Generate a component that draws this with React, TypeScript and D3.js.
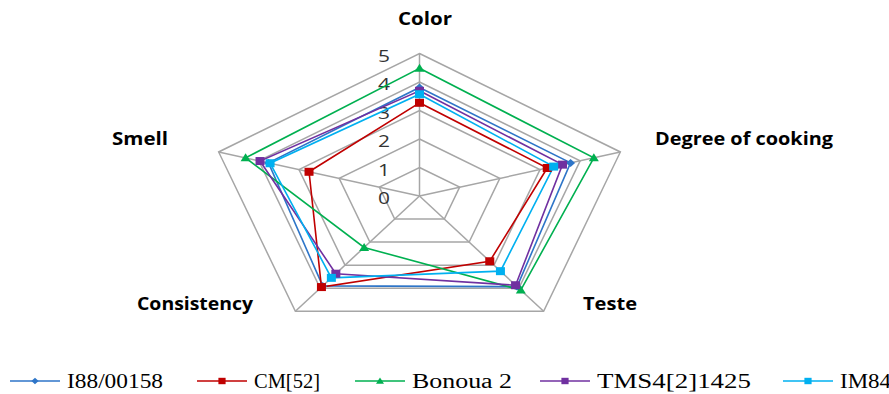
import React from "react";
import * as d3 from "d3";

// Sensory attributes (clockwise from top)
const axes = ["Color", "Degree of cooking", "Teste", "Consistency", "Smell"];
const levels = [0, 1, 2, 3, 4, 5];

// Mean scores for each variety, in axis order
const seriesNames = ["I88/00158", "CM[52]", "Bonoua 2", "TMS4[2]1425", "IM84"];
const i88 = [3.81, 3.76, 3.93, 3.9, 3.76];
const cm52 = [3.27, 3.18, 2.83, 3.95, 2.75];
const bonoua2 = [4.48, 4.34, 4.08, 2.23, 4.33];
const tms4 = [3.69, 3.56, 3.87, 3.37, 3.97];
const im84 = [3.57, 3.34, 3.26, 3.55, 3.72];

const seriesColors = ["#2E75C8", "#C00000", "#00B050", "#7030A0", "#00B0F0"];
const seriesShapes = ["diamond", "square", "triangle", "square", "square"];

const W = 889;
const H = 394;
const cx = 419.5;
const cy = 196;
const sx = 1.482; // horizontal stretch of the plot area

const r = d3.scaleLinear().domain([0, 5]).range([0, 142.5]);

function pt(i: number, v: number): [number, number] {
  const a = (i * 2 * Math.PI) / axes.length;
  return [cx + sx * r(v) * Math.sin(a), cy - r(v) * Math.cos(a)];
}

function Marker({ shape, x, y, color, s = 1 }: { shape: string; x: number; y: number; color: string; s?: number }) {
  if (shape === "square") {
    return <rect x={x - 4.5 * s} y={y - 4 * s} width={9 * s} height={8 * s} fill={color} />;
  }
  if (shape === "triangle") {
    const p = [
      [x, y - 4.5 * s],
      [x + 5 * s, y + 3.5 * s],
      [x - 5 * s, y + 3.5 * s],
    ];
    return <polygon points={p.map((d) => d.join(",")).join(" ")} fill={color} />;
  }
  const p = [
    [x, y - 4 * s],
    [x + 4.5 * s, y],
    [x, y + 4 * s],
    [x - 4.5 * s, y],
  ];
  return <polygon points={p.map((d) => d.join(",")).join(" ")} fill={color} />;
}

export default function App() {
  const data = [i88, cm52, bonoua2, tms4, im84];
  const closed = d3.line<[number, number]>().curve(d3.curveLinearClosed);

  const labelPos = [
    { x: 425, y: 25, len: 54 },
    { x: 744, y: 145, len: 178 },
    { x: 610, y: 310, len: 54 },
    { x: 195, y: 310, len: 116 },
    { x: 140, y: 145, len: 56 },
  ];

  const legendX = [10, 197, 355, 540, 783];
  const legendTextLen = [96, 66, 100, 154, 51];

  return (
    <div style={{ position: "absolute", left: 0, top: 0 }}>
      <svg width={W} height={H} style={{ display: "block", background: "#fff" }}>
        {/* grid pentagons */}
        {levels.slice(1).map((lv) => (
          <path
            key={lv}
            d={closed(axes.map((_, i) => pt(i, lv))) || ""}
            fill="none"
            stroke="#A6A6A6"
            strokeWidth={1.5}
          />
        ))}
        {/* spokes */}
        {axes.map((_, i) => {
          const [x2, y2] = pt(i, 5);
          return <line key={i} x1={cx} y1={cy} x2={x2} y2={y2} stroke="#A6A6A6" strokeWidth={1.5} />;
        })}
        {/* level tick labels */}
        {levels.map((lv) => (
          <text
            key={lv}
            x={378}
            y={cy - r(lv) + 8}
            fontFamily="Open Sans, Liberation Sans, sans-serif"
            fontSize={17}
            fill="#333"
            textLength={12}
            lengthAdjust="spacingAndGlyphs"
          >
            {lv}
          </text>
        ))}
        {/* series */}
        {data.map((vals, si) => (
          <path
            key={si}
            d={closed(vals.map((v, i) => pt(i, v))) || ""}
            fill="none"
            stroke={seriesColors[si]}
            strokeWidth={1.6}
          />
        ))}
        {data.map((vals, si) =>
          vals.map((v, i) => {
            const [x, y] = pt(i, v);
            return <Marker key={`${si}-${i}`} shape={seriesShapes[si]} x={x} y={y} color={seriesColors[si]} />;
          })
        )}
        {/* axis labels */}
        {axes.map((name, i) => (
          <text
            key={name}
            x={labelPos[i].x}
            y={labelPos[i].y}
            textAnchor="middle"
            fontFamily="Open Sans, Liberation Sans, sans-serif"
            fontWeight="bold"
            fontSize={17}
            fill="#000"
            textLength={labelPos[i].len}
            lengthAdjust="spacingAndGlyphs"
          >
            {name}
          </text>
        ))}
        {/* legend */}
        {seriesNames.map((name, si) => {
          const x0 = legendX[si];
          const y0 = 381;
          return (
            <g key={name}>
              <line x1={x0} x2={x0 + 50} y1={y0} y2={y0} stroke={seriesColors[si]} strokeWidth={1.6} />
              <Marker shape={seriesShapes[si]} x={x0 + 25} y={y0} color={seriesColors[si]} s={0.8} />
              <text
                x={x0 + 57}
                y={y0 + 7}
                fontFamily="Liberation Serif, Times New Roman, serif"
                fontSize={20}
                fill="#000"
                textLength={legendTextLen[si]}
                lengthAdjust="spacingAndGlyphs"
              >
                {name}
              </text>
            </g>
          );
        })}
      </svg>
    </div>
  );
}
